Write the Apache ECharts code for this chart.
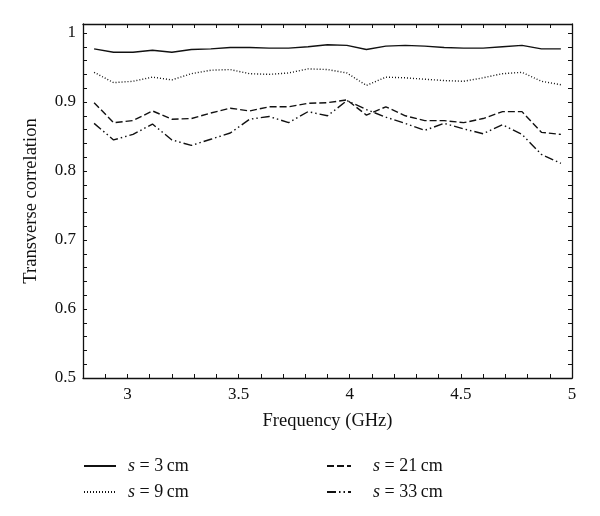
<!DOCTYPE html>
<html>
<head>
<meta charset="utf-8">
<script src="https://cdn.jsdelivr.net/npm/echarts@6/dist/echarts.min.js"></script>
<style>
  html, body { margin: 0; padding: 0; background: #fff; }
  #chart { width: 600px; height: 516px; }
</style>
</head>
<body>
<div id="chart"></div>
<script>
// frequency points (GHz)
const freq = [2.85, 2.9375, 3.025, 3.1125, 3.2, 3.2875, 3.375, 3.4625, 3.55, 3.6375, 3.725, 3.8125, 3.9,
  3.9875, 4.075, 4.1625, 4.25, 4.3375, 4.425, 4.5125, 4.6, 4.6875, 4.775, 4.8625, 4.95]

const s3 = [0.977, 0.972, 0.972, 0.975, 0.972, 0.976, 0.977, 0.979, 0.979, 0.978, 0.978, 0.980, 0.983,
  0.982, 0.976, 0.981, 0.982, 0.981, 0.979, 0.978, 0.978, 0.980, 0.982, 0.977, 0.977]
const s9 = [0.943, 0.928, 0.930, 0.936, 0.932, 0.941, 0.946, 0.947, 0.941, 0.940, 0.942, 0.948, 0.947,
  0.942, 0.924, 0.936, 0.935, 0.933, 0.931, 0.930, 0.935, 0.941, 0.943, 0.930, 0.925]
const s21 = [0.899, 0.870, 0.873, 0.887, 0.875, 0.876, 0.884, 0.891, 0.887, 0.893, 0.893, 0.898, 0.899,
  0.903, 0.881, 0.893, 0.880, 0.873, 0.873, 0.870, 0.876, 0.886, 0.886, 0.856, 0.853]
const s33 = [0.869, 0.845, 0.853, 0.868, 0.845, 0.837, 0.846, 0.855, 0.875, 0.879, 0.870, 0.886, 0.880,
  0.902, 0.889, 0.878, 0.869, 0.859, 0.869, 0.861, 0.854, 0.867, 0.853, 0.824, 0.811]

const names = ['s = 3 cm', 's = 9 cm', 's = 21 cm', 's = 33 cm']

const font = 'Liberation Serif'
const ink = '#111'

function pairs(vals) {
  return vals.map((v, i) => [freq[i], v])
}

function isStep(v, step) {
  const r = v / step
  return Math.abs(r - Math.round(r)) < 1e-6
}

const axisCommon = {
  type: 'value',
  splitLine: { show: false },
  axisLine: { show: true, onZero: false, lineStyle: { color: ink, width: 1.3 } },
  axisTick: { show: true, inside: true, length: 4, lineStyle: { color: ink, width: 1 } }
}

const xBase = Object.assign({}, axisCommon, { min: 2.8, max: 5, interval: 0.1 })
const yBase = Object.assign({}, axisCommon, { min: 0.5, max: 1.013, interval: 0.02 })

const chart = echarts.init(document.getElementById('chart'))

function legendText(pad) {
  return {
    fontFamily: font,
    fontSize: 18,
    color: ink,
    padding: [0, 0, 0, pad],
    rich: {
      i: { fontFamily: font, fontSize: 18, fontStyle: 'italic', color: ink }
    }
  }
}
// "s = 3 cm" -> italic s, thin space before the unit
const legendFmt = name => '{i|s}' + name.slice(1).replace(/ cm$/, '\u2009cm')

chart.setOption({
  animation: false,
  grid: { left: 83, right: 28, top: 24, bottom: 138 },
  xAxis: [
    Object.assign({}, xBase, {
      position: 'bottom',
      name: 'Frequency (GHz)',
      nameLocation: 'middle',
      nameGap: 34,
      nameTextStyle: { fontFamily: font, fontSize: 18.5, color: ink },
      axisLabel: {
        fontFamily: font, fontSize: 17, color: ink, margin: 8,
        showMinLabel: true, showMaxLabel: true,
        formatter: v => (isStep(v, 0.5) ? String(+v.toFixed(1)) : '')
      }
    }),
    Object.assign({}, xBase, { position: 'top', axisLabel: { show: false } })
  ],
  yAxis: [
    Object.assign({}, yBase, {
      position: 'left',
      name: 'Transverse correlation',
      nameLocation: 'middle',
      nameGap: 42,
      nameTextStyle: { fontFamily: font, fontSize: 18.5, color: ink },
      axisLabel: {
        fontFamily: font, fontSize: 17, color: ink, margin: 7,
        formatter: v => (isStep(v, 0.1) ? (Math.abs(v - 1) < 1e-6 ? '1' : v.toFixed(1)) : '')
      }
    }),
    Object.assign({}, yBase, { position: 'right', axisLabel: { show: false } })
  ],
  legend: [
    {
      data: [names[0], names[1]],
      orient: 'vertical',
      left: 78,
      top: 452,
      itemWidth: 32,
      itemHeight: 12,
      itemGap: 8,
      itemStyle: { opacity: 0 },
      formatter: legendFmt,
      textStyle: legendText(7)
    },
    {
      data: [names[2], names[3]],
      orient: 'vertical',
      left: 321,
      top: 452,
      itemWidth: 24,
      itemHeight: 12,
      itemGap: 8,
      itemStyle: { opacity: 0 },
      formatter: legendFmt,
      textStyle: legendText(17)
    }
  ],
  series: [
    {
      name: names[0], type: 'line', symbol: 'none', data: pairs(s3),
      lineStyle: { color: ink, width: 1.4, type: 'solid' }, itemStyle: { color: ink }
    },
    {
      name: names[1], type: 'line', symbol: 'none', data: pairs(s9),
      lineStyle: { color: ink, width: 1.4, type: [1, 2] }, itemStyle: { color: ink }
    },
    {
      name: names[2], type: 'line', symbol: 'none', data: pairs(s21),
      lineStyle: { color: ink, width: 1.4, type: [7, 3] }, itemStyle: { color: ink }
    },
    {
      name: names[3], type: 'line', symbol: 'none', data: pairs(s33),
      lineStyle: { color: ink, width: 1.4, type: [9, 3, 1.5, 3, 1.5, 3] }, itemStyle: { color: ink }
    }
  ]
})
</script>
</body>
</html>
